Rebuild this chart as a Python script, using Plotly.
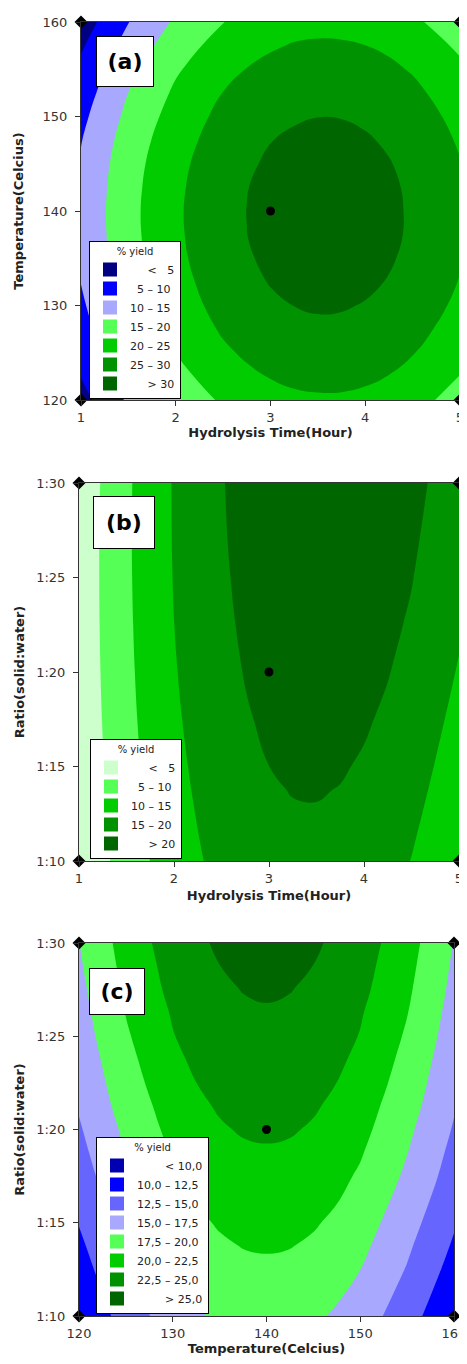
import plotly.graph_objects as go

# the page body has an 8 px margin, so the figure is sized to fit the window
OFF = 8
W, H = 467 - OFF, 1364 - OFF
FONT = "DejaVu Sans"

# ---------------- data ----------------
# Panel (a): yield vs hydrolysis time (h) and temperature (C)
time_a = [1.0, 1.5, 2.0, 2.5, 2.75, 3.0, 3.25, 3.5, 3.75, 4.0, 4.25, 4.5, 5.0]
temp_a = [120, 122.5, 125, 127.5, 130, 132.5, 135, 137.5, 140, 142.5, 145, 147.5, 150, 152.5, 155, 157.5, 160]
yield_a = [
    [3.3, 10.7, 16.5, 20.7, 22.3, 23.4, 24.1, 24.4, 24.4, 23.9, 23.0, 21.8, 18.0],
    [5.1, 12.6, 18.4, 22.6, 24.1, 25.2, 26.0, 26.3, 26.2, 25.8, 24.9, 23.6, 19.9],
    [6.8, 14.2, 19.99, 24.2, 25.7, 26.9, 27.6, 27.9, 27.8, 27.4, 26.5, 25.2, 21.5],
    [8.1, 15.5, 21.3, 25.6, 27.1, 28.2, 28.9, 29.3, 29.2, 28.7, 27.9, 26.6, 22.9],
    [9.2, 16.6, 22.5, 26.7, 28.2, 29.3, 30.04, 30.4, 30.3, 29.8, 29.0, 27.7, 24.0],
    [10.1, 17.5, 23.3, 27.5, 29.0, 30.2, 30.9, 31.2, 31.1, 30.7, 29.8, 28.5, 24.8],
    [10.7, 18.1, 23.9, 28.1, 29.6, 30.8, 31.5, 31.8, 31.7, 31.3, 30.4, 29.1, 25.4],
    [11.0, 18.4, 24.2, 28.4, 29.97, 31.1, 31.8, 32.1, 32.1, 31.6, 30.7, 29.5, 25.7],
    [11.1, 18.5, 24.3, 28.5, 30.04, 31.2, 31.9, 32.2, 32.1, 31.7, 30.8, 29.5, 25.8],
    [10.9, 18.3, 24.1, 28.3, 29.9, 31.0, 31.7, 32.0, 32.0, 31.5, 30.6, 29.4, 25.6],
    [10.5, 17.9, 23.7, 27.9, 29.4, 30.6, 31.3, 31.6, 31.5, 31.1, 30.2, 28.9, 25.2],
    [9.8, 17.2, 23.0, 27.2, 28.7, 29.9, 30.6, 30.9, 30.8, 30.4, 29.5, 28.2, 24.5],
    [8.8, 16.2, 22.0, 26.3, 27.8, 28.9, 29.6, 29.96, 29.9, 29.4, 28.6, 27.3, 23.6],
    [7.6, 15.02, 20.8, 25.07, 26.6, 27.7, 28.4, 28.8, 28.7, 28.2, 27.3, 26.1, 22.4],
    [6.1, 13.6, 19.4, 23.6, 25.1, 26.2, 27.0, 27.3, 27.2, 26.8, 25.9, 24.6, 20.9],
    [4.4, 11.8, 17.7, 21.9, 23.4, 24.5, 25.3, 25.6, 25.5, 25.04, 24.2, 22.9, 19.2],
    [2.5, 9.9, 15.7, 19.9, 21.4, 22.6, 23.3, 23.6, 23.5, 23.1, 22.2, 20.9, 17.2],
]

# Panel (b): yield vs hydrolysis time (h) and solid:water ratio (1:n)
time_b = [1.0, 1.5, 2.0, 2.5, 2.75, 3.0, 3.25, 3.5, 3.75, 4.0, 4.25, 4.5, 5.0]
ratio_b = [10, 11.25, 12.5, 13.75, 15, 17.5, 20, 22.5, 25, 27.5, 30]
yield_b = [
    [0.44, 7.38, 12.70, 16.38, 17.62, 18.45, 18.87, 18.89, 18.50, 17.70, 16.50, 14.89, 10.45],
    [0.68, 7.66, 13.02, 16.76, 18.01, 18.87, 19.31, 19.35, 18.98, 18.21, 17.03, 15.44, 11.05],
    [0.88, 7.91, 13.32, 17.10, 18.38, 19.26, 19.73, 19.79, 19.45, 18.70, 17.55, 15.98, 11.64],
    [1.07, 8.15, 13.60, 17.43, 18.74, 19.63, 20.13, 20.21, 19.89, 19.17, 18.03, 16.50, 12.20],
    [1.24, 8.36, 13.86, 17.74, 19.07, 19.99, 20.50, 20.61, 20.32, 19.61, 18.50, 16.99, 12.74],
    [1.51, 8.73, 14.32, 18.29, 19.66, 20.63, 21.19, 21.35, 21.10, 20.44, 19.38, 17.91, 13.75],
    [1.69, 9.00, 14.69, 18.75, 20.17, 21.19, 21.80, 22.00, 21.80, 21.19, 20.17, 18.75, 14.69],
    [1.78, 9.19, 14.97, 19.13, 20.60, 21.66, 22.32, 22.57, 22.41, 21.85, 20.88, 19.51, 15.54],
    [1.80, 9.30, 15.18, 19.42, 20.94, 22.05, 22.75, 23.05, 22.94, 22.42, 21.50, 20.17, 16.30],
    [1.74, 9.33, 15.29, 19.64, 21.20, 22.35, 23.10, 23.45, 23.38, 22.91, 22.04, 20.75, 16.97],
    [1.58, 9.26, 15.32, 19.76, 21.37, 22.57, 23.37, 23.76, 23.74, 23.32, 22.49, 21.26, 17.57],
]

# Panel (c): yield vs temperature (C) and solid:water ratio (1:n)
temp_c = [120, 125, 130, 132.5, 135, 137.5, 140, 142.5, 145, 147.5, 150, 155, 160]
ratio_c = [10, 12.5, 13.75, 15, 17.5, 18.75, 20, 21.25, 22.5, 23.75, 25, 26.25, 27.5, 28.75, 30]
yield_c = [
    [10.1, 13.6, 16.3, 17.2, 17.9, 18.3, 18.4, 18.3, 17.9, 17.2, 16.3, 13.6, 10.2],
    [11.4, 14.85, 17.51, 18.4, 19.1, 19.5, 19.6, 19.5, 19.1, 18.4, 17.51, 14.85, 11.6],
    [12.0, 15.4, 18.1, 19.0, 19.7, 20.07, 20.2, 20.07, 19.7, 19.0, 18.1, 15.4, 12.2],
    [12.6, 16.0, 18.65, 19.6, 20.2, 20.6, 20.8, 20.6, 20.2, 19.6, 18.65, 16.0, 12.75],
    [13.8, 17.1, 19.7, 20.6, 21.3, 21.7, 21.8, 21.7, 21.3, 20.6, 19.7, 17.1, 13.9],
    [14.3, 17.55, 20.2, 21.1, 21.8, 22.2, 22.3, 22.2, 21.8, 21.1, 20.2, 17.55, 14.35],
    [14.75, 18.0, 20.7, 21.6, 22.3, 22.67, 22.8, 22.67, 22.3, 21.6, 20.7, 18.0, 14.8],
    [15.2, 18.5, 21.1, 22.1, 22.7, 23.1, 23.25, 23.1, 22.7, 22.1, 21.1, 18.5, 15.2],
    [15.6, 18.9, 21.6, 22.49, 23.15, 23.55, 23.7, 23.55, 23.15, 22.49, 21.6, 18.9, 15.6],
    [15.95, 19.3, 22.0, 22.9, 23.6, 24.0, 24.1, 24.0, 23.6, 22.9, 22.0, 19.3, 15.95],
    [16.3, 19.7, 22.4, 23.3, 23.95, 24.35, 24.5, 24.35, 23.95, 23.3, 22.4, 19.7, 16.3],
    [16.6, 20.07, 22.7, 23.65, 24.3, 24.7, 24.85, 24.7, 24.3, 23.65, 22.7, 20.07, 16.6],
    [16.9, 20.4, 23.1, 24.0, 24.65, 25.06, 25.2, 25.06, 24.65, 24.0, 23.1, 20.4, 16.9],
    [17.2, 20.7, 23.4, 24.3, 24.98, 25.4, 25.5, 25.4, 24.98, 24.3, 23.4, 20.7, 17.15],
    [17.45, 21.0, 23.7, 24.6, 25.3, 25.7, 25.8, 25.7, 25.3, 24.6, 23.7, 21.0, 17.4],
]

# contour levels (start, end, step)
levels_a = (5, 30, 5)
levels_b = (5, 20, 5)
levels_c = (10, 25, 2.5)

colors_a = ["#000080", "#0000ff", "#a8a8ff", "#55ff55", "#00cc00", "#009200", "#006600"]
colors_b = ["#ccffcc", "#55ff55", "#00cc00", "#009200", "#006600"]
colors_c = ["#0000b0", "#0000ff", "#6666ff", "#a8a8ff", "#55ff55", "#00cc00", "#009200", "#006600"]

F = "\u2007"   # figure space (digit width)
P = "\u2008"   # punctuation space
legend_a = [F + F + " < " + F + "5", F + "5 – 10", "10 – 15", "15 – 20",
            "20 – 25", "25 – 30", F + F + " > 30"]
legend_b = [F + F + " < " + F + "5", F + "5 – 10", "10 – 15", "15 – 20", F + F + " > 20"]
BL = F + F + P + F
legend_c = [BL + " < 10,0", "10,0 – 12,5", "12,5 – 15,0", "15,0 – 17,5",
            "17,5 – 20,0", "20,0 – 22,5", "22,5 – 25,0", BL + " > 25,0"]

# design points: centre point and factorial corners
center_a = ([3], [140])
corners_a = ([1, 5, 1, 5], [120, 120, 160, 160])
center_b = ([3], [20])
corners_b = ([1, 5, 1, 5], [10, 10, 30, 30])
center_c = ([140], [20])
corners_c = ([120, 160, 120, 160], [10, 10, 30, 30])

ratio_tickvals = [10, 15, 20, 25, 30]
ratio_ticktext = ["1:10", "1:15", "1:20", "1:25", "1:30"]


def stepscale(colors):
    n = len(colors) - 1
    scale = []
    for k, c in enumerate(colors):
        lo = max(0.0, (k - 0.5) / n)
        hi = min(1.0, (k + 0.5) / n)
        scale.append([lo, c])
        scale.append([hi, c])
    return scale


fig = go.Figure()


def add_panel(x, y, z, levels, colors, labels, center, corners, xa, ya, leg):
    s, e, d = levels
    fig.add_trace(go.Contour(
        x=x, y=y, z=z, xaxis=xa, yaxis=ya,
        autocontour=False,
        contours=dict(start=s, end=e, size=d, coloring="fill", showlines=False),
        colorscale=stepscale(colors), showscale=False,
        line=dict(width=0, smoothing=1.3),
        hoverinfo="skip", showlegend=False,
    ))
    for c, lab in zip(colors, labels):
        fig.add_trace(go.Scatter(
            x=[None], y=[None], mode="markers", xaxis=xa, yaxis=ya,
            marker=dict(symbol="square", size=14, color=c),
            name=lab, legend=leg, showlegend=True, hoverinfo="skip",
        ))
    fig.add_trace(go.Scatter(
        x=center[0], y=center[1], mode="markers", xaxis=xa, yaxis=ya,
        marker=dict(symbol="circle", size=9, color="black"),
        showlegend=False, hoverinfo="skip", cliponaxis=False,
    ))
    fig.add_trace(go.Scatter(
        x=corners[0], y=corners[1], mode="markers", xaxis=xa, yaxis=ya,
        marker=dict(symbol="diamond", size=10, color="black"),
        showlegend=False, hoverinfo="skip", cliponaxis=False,
    ))


add_panel(time_a, temp_a, yield_a, levels_a, colors_a, legend_a, center_a, corners_a, "x", "y", "legend")
add_panel(time_b, ratio_b, yield_b, levels_b, colors_b, legend_b, center_b, corners_b, "x2", "y2", "legend2")
add_panel(temp_c, ratio_c, yield_c, levels_c, colors_c, legend_c, center_c, corners_c, "x3", "y3", "legend3")


def px_x(v):
    return (v - OFF) / W


def px_y(v):
    return 1 - (v - OFF) / H


axis_common = dict(
    showline=True, mirror=True, linecolor="#333", linewidth=1,
    ticks="outside", ticklen=5, tickcolor="#333", showgrid=False, zeroline=False,
    tickfont=dict(family=FONT, size=13, color="#333"),
    title_font=dict(family=FONT, size=13, color="#222"),
    fixedrange=True, automargin=False,
)
yaxis_common = dict(axis_common, ticklabelstandoff=5)


def legend_box(x0, y0):
    return dict(
        x=px_x(x0), y=px_y(y0), xanchor="left", yanchor="top",
        bgcolor="white", bordercolor="black", borderwidth=1,
        font=dict(family=FONT, size=11, color="#222"),
        title=dict(text="% yield", side="top center", font=dict(family=FONT, size=10, color="#222")),
        itemclick=False, itemdoubleclick=False, tracegroupgap=0, itemwidth=30,
    )


def label(text, cx, cy, w, h):
    return dict(
        text="<b>%s</b>" % text, x=px_x(cx), y=px_y(cy), xref="paper", yref="paper",
        xanchor="center", yanchor="middle", showarrow=False,
        font=dict(family=FONT, size=22, color="black"),
        bgcolor="white", bordercolor="black", borderwidth=1, width=w, height=h,
    )


fig.update_layout(
    width=W, height=H, autosize=False,
    margin=dict(l=0, r=0, t=0, b=0, autoexpand=False),
    paper_bgcolor="white", plot_bgcolor="white",
    font=dict(family=FONT, color="#222"),
    xaxis=dict(axis_common, domain=[px_x(81), px_x(460)], anchor="y", range=[1, 5], dtick=1,
               title=dict(text="<b>Hydrolysis Time(Hour)</b>", standoff=4)),
    yaxis=dict(yaxis_common, domain=[px_y(400), px_y(22)], anchor="x", range=[120, 160], dtick=10,
               title=dict(text="<b>Temperature(Celcius)</b>", standoff=16)),
    xaxis2=dict(axis_common, domain=[px_x(79), px_x(459)], anchor="y2", range=[1, 5], dtick=1,
                title=dict(text="<b>Hydrolysis Time(Hour)</b>", standoff=6)),
    yaxis2=dict(yaxis_common, domain=[px_y(861), px_y(483)], anchor="x2", range=[10, 30],
                tickvals=ratio_tickvals, ticktext=ratio_ticktext,
                title=dict(text="<b>Ratio(solid:water)</b>", standoff=8)),
    xaxis3=dict(axis_common, domain=[px_x(79), px_x(454)], anchor="y3", range=[120, 160], dtick=10,
                title=dict(text="<b>Temperature(Celcius)</b>", standoff=4)),
    yaxis3=dict(yaxis_common, domain=[px_y(1316), px_y(943)], anchor="x3", range=[10, 30],
                tickvals=ratio_tickvals, ticktext=ratio_ticktext,
                title=dict(text="<b>Ratio(solid:water)</b>", standoff=8)),
    legend=legend_box(89, 241),
    legend2=legend_box(90, 739),
    legend3=legend_box(96, 1137),
    annotations=[
        label("(a)", 125, 61.5, 54, 47),
        label("(b)", 124, 522.5, 58, 49),
        label("(c)", 117, 991.5, 52, 43),
    ],
)

fig.write_html("out.html")
